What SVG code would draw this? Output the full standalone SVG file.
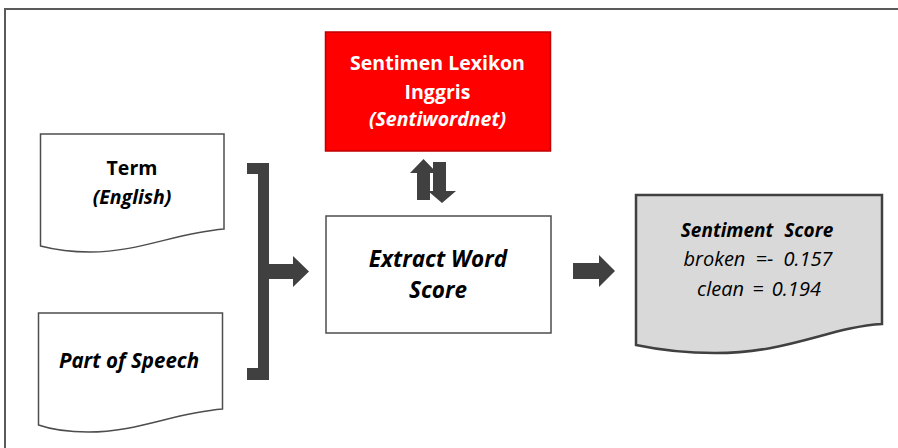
<svg xmlns="http://www.w3.org/2000/svg" width="898" height="448" viewBox="0 0 898 448">
  <style>
    .doc { fill: #ffffff; stroke: #4d4d4d; stroke-width: 1.5; }
    .box { fill: #ffffff; stroke: #4d4d4d; stroke-width: 1.5; }
    .lex { fill: #ff0000; stroke: #c00000; stroke-width: 1.5; }
    .out { fill: #d9d9d9; stroke: #404040; stroke-width: 2.5; }
    .conn { fill: #404040; stroke: none; }
    text { font-family: "Open Sans", "Liberation Sans", sans-serif; text-anchor: middle; fill: #000000; }
    .b { font-weight: bold; }
    .i { font-style: italic; }
    .w { fill: #ffffff; }
  </style>

  <!-- frame -->
  <path d="M5,448 V9 H898" fill="none" stroke="#5a5a5a" stroke-width="2"/>

  <!-- Term (English) -->
  <g id="term">
    <path class="doc" d="M40.5,134 H224 V229 C175,233 140,252 90,252 C68,252 52,249 40.5,246 Z"/>
    <text class="b" x="132" y="175" font-size="19.5">Term</text>
    <text class="b i" x="132" y="204" font-size="19.5">(English)</text>
  </g>

  <!-- Part of Speech -->
  <g id="pos">
    <path class="doc" d="M38.5,313 H222.5 V409 C173,413 138,432 88,432 C66,432 50,429 38.5,425 Z"/>
    <text class="b i" x="129" y="368" font-size="20.5">Part of Speech</text>
  </g>

  <!-- Sentimen Lexikon Inggris -->
  <g id="lexicon">
    <rect class="lex" x="325.5" y="32" width="225" height="119"/>
    <text class="b w" x="437.5" y="70" font-size="19.5">Sentimen Lexikon</text>
    <text class="b w" x="437.5" y="99" font-size="19.5">Inggris</text>
    <text class="b i w" x="437.5" y="126" font-size="19.5">(Sentiwordnet)</text>
  </g>

  <!-- Extract Word Score -->
  <g id="extract">
    <rect class="box" x="326" y="216" width="225" height="117"/>
    <text class="b i" x="438" y="267" font-size="22.5">Extract Word</text>
    <text class="b i" x="438" y="298" font-size="22.5">Score</text>
  </g>

  <!-- Sentiment Score -->
  <g id="score">
    <path class="out" d="M636,195 H882 V324 C830,327 790,353 715,353 C680,353 655,349 636,345 Z"/>
    <text class="b i" x="757" y="237" font-size="19" word-spacing="6">Sentiment Score</text>
    <text class="i" x="758" y="266" font-size="20" word-spacing="5">broken =- 0.157</text>
    <text class="i" x="759" y="296" font-size="20" word-spacing="3">clean = 0.194</text>
  </g>

  <!-- connectors -->
  <g id="connectors">
    <!-- bracket joining the two inputs -->
    <path class="conn" d="M247,163 H269 V380 H247 V368 H258 V174 H247 Z"/>
    <!-- bracket to Extract Word Score -->
    <path class="conn" d="M269,264 H293 V256 L309,271.5 L293,287 V279 H269 Z"/>
    <!-- lexicon lookup: up and down -->
    <path class="conn" d="M417,200 V173 H410 L423.5,159 L437,173 H430 V200 Z"/>
    <path class="conn" d="M433,162 H446 V191 H456 L442,203 L428,191 H433 Z"/>
    <!-- Extract Word Score to Sentiment Score -->
    <path class="conn" d="M573,263 H599 V255 L615,271 L599,287 V279 H573 Z"/>
  </g>
</svg>
